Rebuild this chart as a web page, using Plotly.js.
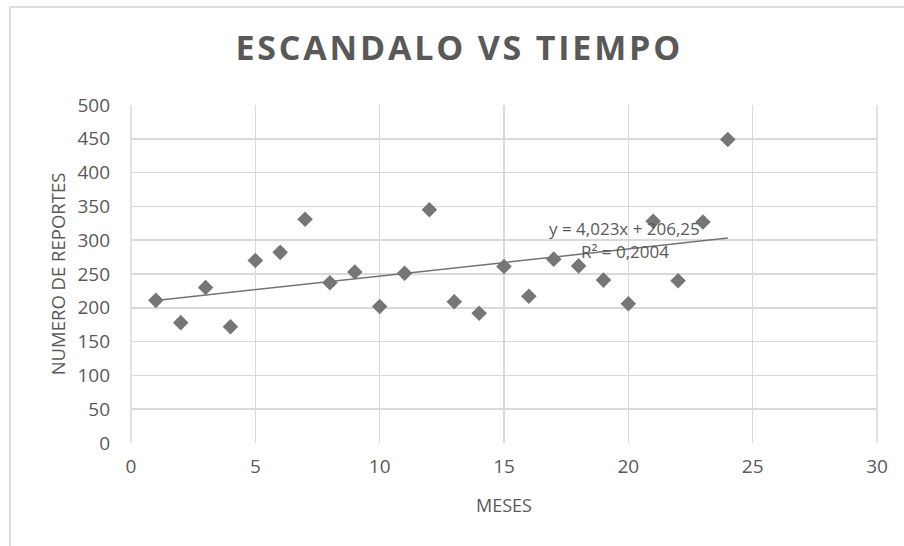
<!DOCTYPE html>
<html>
<head>
<meta charset="utf-8">
<script src="https://cdn.plot.ly/plotly-3.0.1.min.js"></script>
<style>
  html, body { margin: 0; padding: 0; background: #ffffff; }
  #wrap { position: relative; width: 904px; height: 546px; overflow: hidden; }
  #chart { position: absolute; left: 0; top: 0; width: 904px; height: 546px; }
  #frame { position: absolute; left: 9px; top: 6px; width: 1200px; height: 1200px;
           border-left: 2px solid #dcdcdc; border-top: 2px solid #dcdcdc; pointer-events: none; }
  .gtitle { letter-spacing: 2.8px; }
</style>
</head>
<body>
<div id="wrap">
  <div id="chart"></div>
  <div id="frame"></div>
</div>
<script>
// Data
const meses = [1, 2, 3, 4, 5, 6, 7, 8, 9, 10, 11, 12, 13, 14, 15, 16, 17, 18, 19, 20, 21, 22, 23, 24];
const reportes = [211, 178, 230, 172, 270, 282, 331, 237, 253, 202, 251, 345, 209, 192, 261, 217, 272, 262, 241, 206, 328, 240, 327, 449];
const xTicks = [0, 5, 10, 15, 20, 25, 30];
const yTicks = [0, 50, 100, 150, 200, 250, 300, 350, 400, 450, 500];
const eqLabel = "y = 4,023x + 206,25";
const r2Label = "R² = 0,2004";

// Linear least-squares trendline from the data
const n = meses.length;
const mx = meses.reduce((a, b) => a + b, 0) / n;
const my = reportes.reduce((a, b) => a + b, 0) / n;
let sxy = 0, sxx = 0;
for (let i = 0; i < n; i++) { sxy += (meses[i] - mx) * (reportes[i] - my); sxx += (meses[i] - mx) ** 2; }
const slope = sxy / sxx;
const intercept = my - slope * mx;
const trendX = [meses[0], meses[n - 1]];
const trendY = trendX.map(x => intercept + slope * x);

const gray = '#595959';
const font = 'Open Sans, Noto Sans, sans-serif';

const traces = [
  {
    x: trendX, y: trendY, type: 'scatter', mode: 'lines',
    line: { color: '#737373', width: 1.5 }, hoverinfo: 'skip', showlegend: false
  },
  {
    x: meses, y: reportes, type: 'scatter', mode: 'markers',
    marker: { symbol: 'diamond', size: 12, color: '#767676' }, showlegend: false
  }
];

const layout = {
  width: 904, height: 546,
  margin: { l: 131, r: 27, t: 105, b: 103 },
  paper_bgcolor: '#ffffff', plot_bgcolor: '#ffffff',
  font: { family: font, color: gray, size: 19 },
  title: {
    text: 'ESCANDALO VS TIEMPO',
    font: { family: font, size: 34, color: gray, weight: 700 },
    x: 0.508, xanchor: 'center', y: 0.912, yanchor: 'middle'
  },
  xaxis: {
    range: [0, 30], tickvals: xTicks, ticktext: xTicks.map(String),
    showgrid: true, gridcolor: '#d9d9d9', gridwidth: 1.5,
    zeroline: false, showline: false, ticks: '', ticklabelstandoff: 10,
    tickfont: { family: font, size: 19, color: gray },
    title: { text: 'MESES', font: { family: font, size: 18, color: gray }, standoff: 21 },
    fixedrange: true
  },
  yaxis: {
    range: [0, 500], tickvals: yTicks, ticktext: yTicks.map(String),
    showgrid: true, gridcolor: '#d9d9d9', gridwidth: 1.5,
    zeroline: false, showline: false, ticks: '', ticklabelstandoff: 20,
    tickfont: { family: font, size: 19, color: gray },
    title: { text: 'NUMERO DE REPORTES', font: { family: font, size: 18.5, color: gray }, standoff: 6 },
    fixedrange: true
  },
  shapes: [
    { type: 'line', xref: 'paper', yref: 'paper', x0: 0, x1: 0, y0: 0, y1: 1, line: { color: '#d9d9d9', width: 1.5 }, layer: 'below' },
    { type: 'line', xref: 'paper', yref: 'paper', x0: 1, x1: 1, y0: 0, y1: 1, line: { color: '#d9d9d9', width: 1.5 }, layer: 'below' }
  ],
  annotations: [
    { x: 19.86, y: 318, xref: 'x', yref: 'y', text: eqLabel, showarrow: false,
      xanchor: 'center', yanchor: 'middle', font: { family: font, size: 17, color: gray } },
    { x: 19.86, y: 283, xref: 'x', yref: 'y', text: r2Label, showarrow: false,
      xanchor: 'center', yanchor: 'middle', font: { family: font, size: 17, color: gray } }
  ]
};

Plotly.newPlot('chart', traces, layout, { displayModeBar: false, staticPlot: true });
</script>
</body>
</html>
